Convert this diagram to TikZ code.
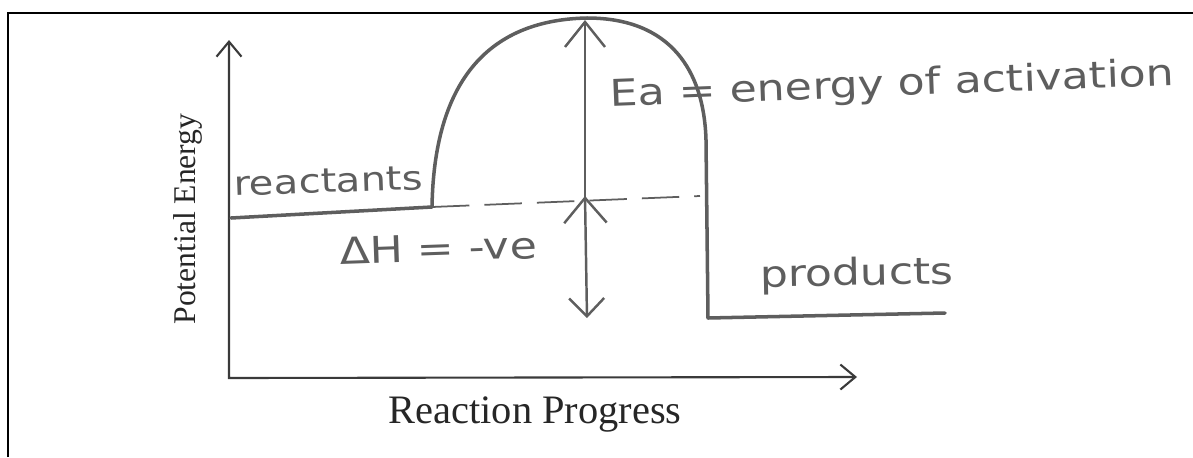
\documentclass[tikz,border=0pt]{standalone}
\usepackage{fontspec}
\setmainfont{Liberation Serif}
\newfontfamily\handfont[FakeStretch=1.2]{DejaVu Sans}
\usetikzlibrary{arrows.meta}
\definecolor{ink}{HTML}{5E5E5E}
\definecolor{axisink}{HTML}{3A3A3A}

\begin{document}
\begin{tikzpicture}[x=0.02cm, y=-0.02cm,
  >={Straight Barb[length=3mm, width=5mm]},
  axis/.style={draw=axisink, line width=1.2pt},
  curve/.style={draw=ink, line width=2pt, line join=round, line cap=round},
  level/.style={draw=ink, line width=1pt, dash pattern=on 0.75cm off 0.3cm},
  gap/.style={draw=ink, line width=1.4pt},
  hand/.style={text=ink, inner sep=0pt, anchor=base west},
  label/.style={text=black!85, inner sep=0pt, anchor=base,
    font=\fontsize{18}{20}\selectfont}]
  \useasboundingbox (0,0) rectangle (1193,457);
  \draw[line width=1.6pt] (8,457) -- (8,13) -- (1193,13);
  \coordinate (O) at (229,378);
  \coordinate (ytip) at (229,40);
  \coordinate (xtip) at (857,377);
  \draw[axis, <->] (ytip) -- (O) -- (xtip);
  \coordinate (r0) at (231,218);
  \coordinate (r1) at (432,207);
  \coordinate (peak) at (587,18);
  \coordinate (drop) at (706,140);
  \coordinate (p0) at (708,318);
  \coordinate (p1) at (945,313);
  \coordinate (dashend) at (700,196);
  \draw[curve] (r0) -- (r1) .. controls (434,85) and (485,20) .. (peak)
    .. controls (670,18) and (704,70) .. (drop) -- (p0) -- (p1);
  \draw[level] (r1) -- (dashend);
  \coordinate (ea0) at (585,200);
  \coordinate (ea1) at (585,20);
  \coordinate (dh0) at (587,318);
  \coordinate (dh1) at (585,196);
  \draw[gap, -{Straight Barb[length=5mm, width=8mm]}] (ea0) -- (ea1);
  \draw[gap, {Straight Barb[length=3.6mm, width=7mm]}-{Straight Barb[length=5mm, width=8.5mm]}] (dh0) -- (dh1);
  \node[hand, font=\handfont\fontsize{21}{23}\selectfont, rotate=2.2] (ealbl) at (610,107) {Ea = energy of activation};
  \node[hand, font=\handfont\fontsize{19}{21}\selectfont, rotate=2] (reactlbl) at (234,196) {reactants};
  \node[hand, font=\handfont\fontsize{21}{23}\selectfont, rotate=2] (dhlbl) at (340,265) {ΔH = -ve};
  \node[hand, font=\handfont\fontsize{21}{23}\selectfont, rotate=1] (prodlbl) at (760,287) {products};
  \node[label, rotate=90] (ylbl) at (195,219) {Potential Energy};
  \node[label, font=\fontsize{23}{26}\selectfont] (xlbl) at (535,423) {Reaction Progress};
\end{tikzpicture}
\end{document}
